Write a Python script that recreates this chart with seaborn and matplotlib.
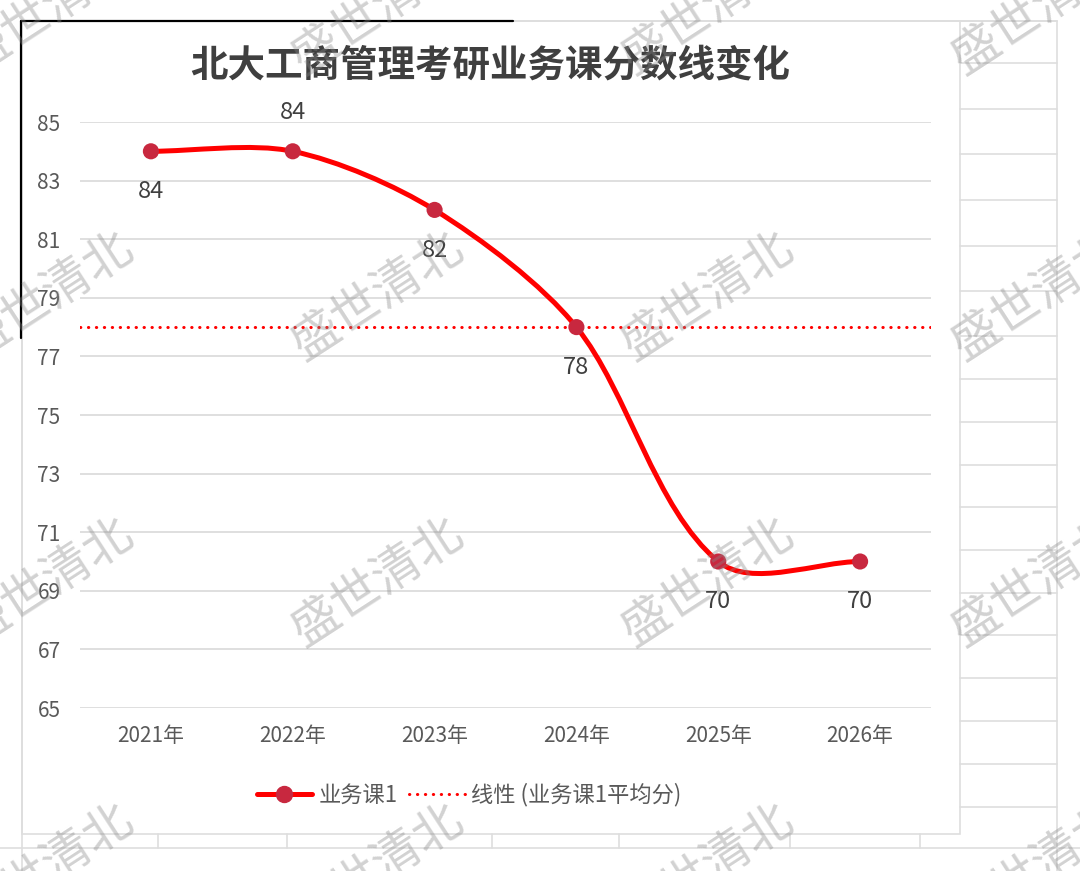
import numpy as np
import seaborn as sns
import matplotlib.pyplot as plt
from matplotlib.path import Path
from matplotlib.patches import PathPatch, Rectangle
from matplotlib.lines import Line2D

# data
years = ['2021年', '2022年', '2023年', '2024年', '2025年', '2026年']
scores = [84, 84, 82, 78, 70, 70]
avg_score = 78
y_ticks = [65, 67, 69, 71, 73, 75, 77, 79, 81, 83, 85]
label_side = ['below', 'above', 'below', 'below', 'below', 'below']
title = '北大工商管理考研业务课分数线变化'
legend_labels = ['业务课1', '线性 (业务课1平均分)']
watermark = '盛世清北'

sns.set_theme(style='white')
plt.rcParams['font.family'] = ['Noto Sans CJK SC', 'DejaVu Sans']

line_c = '#ff0000'
marker_c = '#c8283f'
grid_c = '#d9d9d9'
text_c = '#595959'

fig = plt.figure(figsize=(10.8, 8.71), dpi=100)

# spreadsheet background (pixel coordinates)
bg = fig.add_axes([0, 0, 1, 1], zorder=-1)
bg.set_xlim(0, 1080)
bg.set_ylim(871, 0)
bg.axis('off')
cell_c = '#dedede'
row_lines = [21, 63, 109, 154, 200, 246, 291, 336, 379, 422, 465, 507, 550, 593, 635, 678, 721, 764, 807]
for ry in row_lines:
    bg.plot([960, 1057], [ry, ry], color=cell_c, lw=1.2)
bg.plot([513, 1057], [21, 21], color=cell_c, lw=1.2)
bg.plot([1057, 1057], [21, 871], color=cell_c, lw=1.2)
bg.plot([0, 1080], [848, 848], color=cell_c, lw=1.2)
for vx in [158, 287, 492, 619, 790, 920]:
    bg.plot([vx, vx], [834, 848], color=cell_c, lw=1.2)
bg.plot([22, 22], [338, 871], color=cell_c, lw=1.2)
bg.add_patch(Rectangle((22, 21), 938, 813, facecolor='white', edgecolor=cell_c, lw=1.2))
# black selection border top-left
bg.plot([21, 513], [21, 21], color='black', lw=1.6)
bg.plot([21, 21], [21, 338], color='black', lw=1.6)

# main chart
ax = fig.add_axes([80 / 1080, 1 - 708 / 871, 851 / 1080, 586 / 871])
ax.set_facecolor('white')
x_idx = np.arange(len(years))
ax.set_xlim(-0.5, len(years) - 0.5)
ax.set_ylim(65, 85)


def smooth_path(xs, ys, sx, sy, k=0.3):
    # Excel-like smoothed line: cubic bezier through every point
    P = np.column_stack([np.asarray(xs, float) * sx, np.asarray(ys, float) * sy])
    n = len(P)
    verts = [P[0]]
    codes = [Path.MOVETO]
    for i in range(n - 1):
        a, b = P[i], P[i + 1]
        seg = np.linalg.norm(b - a)
        t0 = P[i + 1] - P[i - 1] if i > 0 else P[1] - P[0]
        t1 = P[i + 2] - P[i] if i < n - 2 else P[-1] - P[-2]
        c1 = a + t0 / np.linalg.norm(t0) * seg * k
        c2 = b - t1 / np.linalg.norm(t1) * seg * k
        verts += [c1, c2, b]
        codes += [Path.CURVE4] * 3
    verts = np.array(verts) / [sx, sy]
    return Path(verts, codes)


sx = 851 / len(years)
sy = 586 / (85 - 65)
ax.add_patch(PathPatch(smooth_path(x_idx, scores, sx, sy), facecolor='none',
                       edgecolor=line_c, lw=3.6, capstyle='round', zorder=3))
sns.scatterplot(x=x_idx, y=scores, s=135, color=marker_c, edgecolor='none', zorder=4, ax=ax)

ax.axhline(avg_score, color=line_c, lw=2.2, ls=(0, (0.1, 2.5)), dash_capstyle='round', zorder=2)

for xi, v, side in zip(x_idx, scores, label_side):
    off = 28 if side == 'above' else -29
    ax.annotate(str(v), (xi, v), xytext=(0, off), textcoords='offset points',
                ha='center', va='center', fontsize=17, color='#404040', zorder=5)

ax.set_yticks(y_ticks)
ax.set_xticks(x_idx, years)
ax.tick_params(axis='y', length=0, pad=14, labelsize=15, labelcolor=text_c)
ax.tick_params(axis='x', length=0, pad=12, labelsize=15, labelcolor=text_c)
ax.yaxis.grid(True, color=grid_c, lw=1.2)
ax.xaxis.grid(False)
for s in ax.spines.values():
    s.set_visible(False)
ax.set_xlabel('')
ax.set_ylabel('')

fig.text(490 / 1080, 1 - 65 / 871, title, ha='center', va='center',
         fontsize=27, weight='bold', color='#3f3f3f')

handles = [
    Line2D([], [], color=line_c, lw=3.6, marker='o', ms=11.5, mfc=marker_c, mec=marker_c),
    Line2D([], [], color=line_c, lw=2.2, ls=(0, (0.1, 2.5)), dash_capstyle='round'),
]
fig.legend(handles, legend_labels, loc='center', bbox_to_anchor=(469 / 1080, 1 - 795 / 871),
           ncol=2, frameon=False, fontsize=16, handlelength=2.5, columnspacing=0.5,
           handletextpad=0.3, labelcolor=text_c)

# watermark grid
for cx in [48, 378, 708, 1038]:
    for cy in [10, 296, 582, 868]:
        fig.text(cx / 1080, 1 - cy / 871, watermark, rotation=33, rotation_mode='anchor',
                 ha='center', va='center', fontsize=35, weight='light',
                 color='#888888', alpha=0.38, zorder=10)

fig.savefig('out.png', dpi=100)
